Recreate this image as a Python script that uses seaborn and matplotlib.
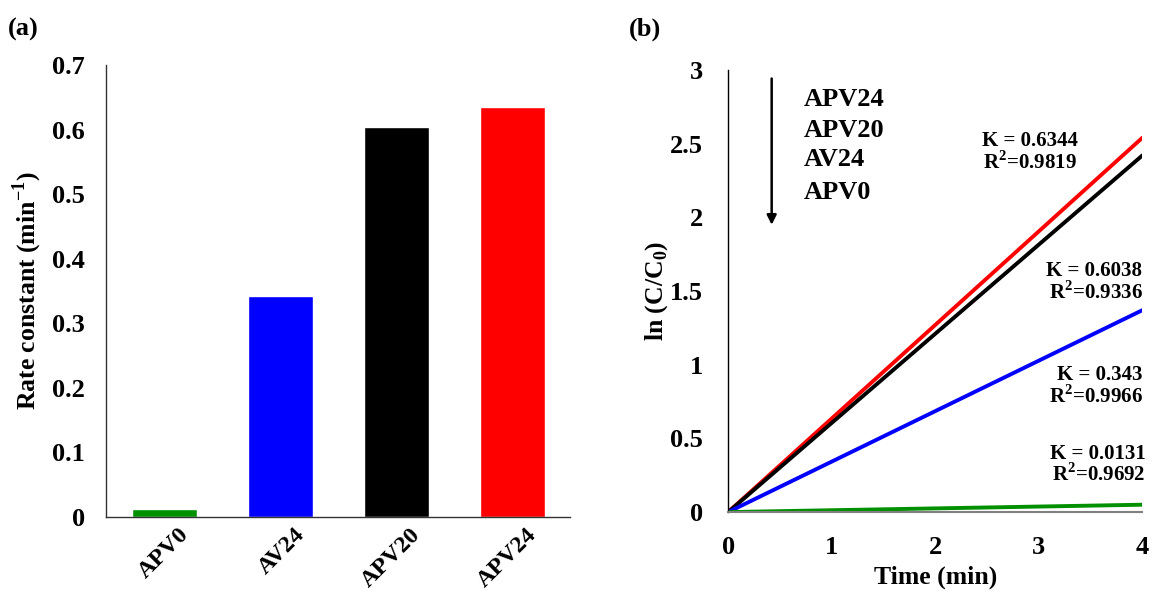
import numpy as np
import pandas as pd
import matplotlib
matplotlib.use("Agg")
import matplotlib.pyplot as plt
import matplotlib.transforms as mtransforms
import seaborn as sns

# panel (a) data
samples = ["APV0", "AV24", "APV20", "APV24"]
rate_k = [0.0131, 0.343, 0.6038, 0.6344]
bar_colors = ["#009000", "#0000ff", "#000000", "#ff0000"]

# panel (b) data: fitted lines
time_min = [0, 4]
ln_apv24 = [0, 2.54]
ln_apv20 = [0, 2.42]
ln_av24 = [0, 1.37]
ln_apv0 = [0, 0.05]
line_colors = {"APV24": "#ff0000", "APV20": "#000000", "AV24": "#0000ff", "APV0": "#009000"}
fit_labels = ["K = 0.6344\nR$^\\mathbf{2}$=0.9819", "K = 0.6038\nR$^\\mathbf{2}$=0.9336",
              "K = 0.343\nR$^\\mathbf{2}$=0.9966", "K = 0.0131\nR$^\\mathbf{2}$=0.9692"]

sns.set_style("white")
plt.rcParams["font.family"] = ["Liberation Serif", "DejaVu Serif"]
plt.rcParams["font.weight"] = "bold"
plt.rcParams["mathtext.fontset"] = "custom"
plt.rcParams["mathtext.rm"] = "Liberation Serif:bold"
plt.rcParams["mathtext.bf"] = "Liberation Serif:bold"
for key in ["text.color", "axes.labelcolor", "xtick.color", "ytick.color"]:
    plt.rcParams[key] = "black"

fig = plt.figure(figsize=(11.54, 5.92), dpi=100)
ax1 = fig.add_axes([0.0919, 0.1267, 0.4021, 0.7633])
ax2 = fig.add_axes([0.631, 0.135, 0.359, 0.747])

# --- (a) bar chart ---
df_bar = pd.DataFrame({"sample": samples, "k": rate_k})
sns.barplot(data=df_bar, x="sample", y="k", hue="sample", palette=bar_colors,
            width=0.56, legend=False, ax=ax1, saturation=1)
ax1.set_xlim(-0.5, 3.5)
ax1.set_ylim(0, 0.7)
ax1.set_yticks(np.arange(0, 0.71, 0.1))
ax1.set_yticklabels(["0"] + [f"{v:.1f}" for v in np.arange(0.1, 0.71, 0.1)])
ax1.set_xticks(np.arange(-0.5, 3.6, 1), minor=True)
ax1.tick_params(axis="x", which="major", length=0, pad=5)
ax1.tick_params(axis="x", which="minor", length=6, width=1, color="#333333", direction="out")
ax1.tick_params(axis="y", length=5, width=1, color="#333333", direction="out", labelsize=19, pad=10)
shift = mtransforms.ScaledTranslation(10 / 72, 0, fig.dpi_scale_trans)
for lab in ax1.get_xticklabels():
    lab.set_rotation(45)
    lab.set_ha("right")
    lab.set_va("top")
    lab.set_rotation_mode("anchor")
    lab.set_fontsize(17.5)
    lab.set_fontweight("bold")
    lab.set_transform(lab.get_transform() + shift)
for lab in ax1.get_yticklabels():
    lab.set_fontweight("bold")
ax1.set_xlabel("")
ax1.set_ylabel("Rate constant (min$^{-1}$)", fontsize=18.5, fontweight="bold", labelpad=6)
for s in ["top", "right"]:
    ax1.spines[s].set_visible(False)
for s in ["left", "bottom"]:
    ax1.spines[s].set_color("#333333")
    ax1.spines[s].set_linewidth(1)
fig.text(0.007, 0.94, "(a)", fontsize=19, fontweight="bold")

# --- (b) kinetics lines ---
df_line = pd.DataFrame({
    "t": time_min * 4,
    "ln": ln_apv24 + ln_apv20 + ln_av24 + ln_apv0,
    "sample": ["APV24"] * 2 + ["APV20"] * 2 + ["AV24"] * 2 + ["APV0"] * 2,
})
sns.lineplot(data=df_line, x="t", y="ln", hue="sample", palette=line_colors,
             linewidth=2.8, legend=False, ax=ax2)
ax2.set_xlim(0, 4)
ax2.set_ylim(0, 3)
ax2.set_xticks(range(0, 5))
ax2.set_yticks(np.arange(0, 3.01, 0.5))
ax2.set_yticklabels(["0", "0.5", "1", "1.5", "2", "2.5", "3"])
ax2.tick_params(length=0, labelsize=19)
ax2.tick_params(axis="x", pad=17)
ax2.tick_params(axis="y", pad=18)
for lab in ax2.get_xticklabels() + ax2.get_yticklabels():
    lab.set_fontweight("bold")
ax2.set_xlabel("Time (min)", fontsize=18.5, fontweight="bold", labelpad=5)
ax2.set_ylabel("ln (C/C$_0$)", fontsize=18.5, fontweight="bold", labelpad=0)
for s in ["top", "right"]:
    ax2.spines[s].set_visible(False)
ax2.spines["left"].set_color("black")
ax2.spines["left"].set_linewidth(1)
ax2.spines["bottom"].set_color("#808080")
ax2.spines["bottom"].set_linewidth(1.5)

ax2.annotate("", xy=(0.42, 1.93), xytext=(0.42, 2.96),
             arrowprops=dict(arrowstyle="-|>", color="black", lw=1.8, mutation_scale=14))
for name, yy in zip(["APV24", "APV20", "AV24", "APV0"], [2.80, 2.59, 2.39, 2.17]):
    ax2.text(0.73, yy, name, fontsize=19, fontweight="bold", va="center", ha="left")

kw = dict(fontsize=15, fontweight="bold", va="center", linespacing=1.0)
ax2.text(2.91, 2.44, fit_labels[0], ha="center", **kw)
ax2.text(4.0, 1.56, fit_labels[1], ha="right", **kw)
ax2.text(4.0, 0.855, fit_labels[2], ha="right", **kw)
ax2.text(4.03, 0.32, fit_labels[3], ha="right", **kw)
fig.text(0.545, 0.94, "(b)", fontsize=19, fontweight="bold")

fig.savefig("out.png", dpi=100)
